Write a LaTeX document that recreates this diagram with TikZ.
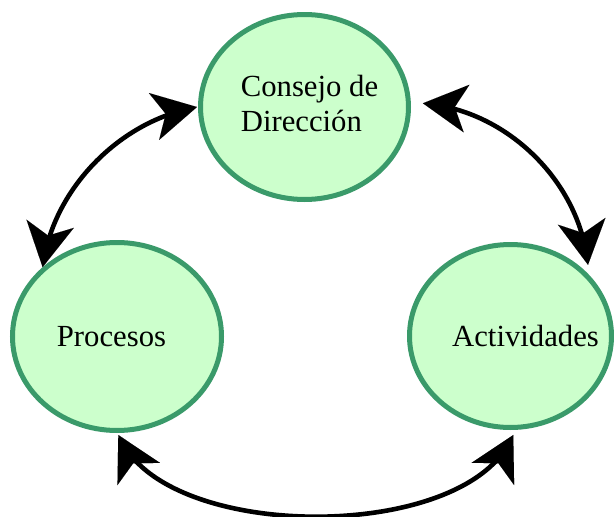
\documentclass[tikz,border=0pt]{standalone}
\usepackage{fontspec}
\setmainfont{Liberation Serif}
\usetikzlibrary{arrows.meta,shapes.geometric,decorations.markings}
\definecolor{nodegreen}{RGB}{58,154,106}
\definecolor{nodefill}{RGB}{204,255,204}
\begin{document}
\begin{tikzpicture}[x=1pt,y=1pt,
  bubble/.style={ellipse, draw=nodegreen, fill=nodefill, line width=5pt, inner sep=0pt,
    font=\fontsize{30.7}{35.5}\selectfont},
  bigtip/.tip={Stealth[length=44pt,width=48pt,inset=12pt,line width=0.01pt]},
  link/.style={line width=4.6pt, shorten <=8pt, shorten >=8pt,
    postaction={decorate, decoration={markings,
      mark=at position 0 with {\arrowreversed{bigtip}},
      mark=at position -0.5pt with {\pgftransformxshift{0.5pt}\arrow{bigtip}}}}}
]
\useasboundingbox (0,0) rectangle (614,-517);
\node[bubble, minimum width=208pt, minimum height=185pt] (cd) at (304.5,-107)
  {\makebox[0pt]{\hspace*{10pt}\begin{tabular}{@{}l@{}}Consejo de\\Dirección\end{tabular}}};
\node[bubble, minimum width=209pt, minimum height=188pt] (pr) at (117,-336.5)
  {\makebox[0pt]{Procesos\hspace*{11pt}}};
\node[bubble, minimum width=202pt, minimum height=183pt] (ac) at (510.5,-336)
  {\makebox[0pt]{\hspace*{30pt}Actividades}};
\draw[link] ([xshift=-1pt]cd.west) to[out=192.4,in=80.3,looseness=0.93] (pr.137);
\draw[link] ([xshift=12pt]cd.2) to[out=-6.9,in=98.1,looseness=0.95] ([shift={(4pt,5pt)}]ac.42);
\draw[link] ([shift={(1.3pt,-2pt)}]pr.south) to[out=297.6,in=242.6,looseness=0.78] ([shift={(2.8pt,-5pt)}]ac.south);
\end{tikzpicture}
\end{document}
